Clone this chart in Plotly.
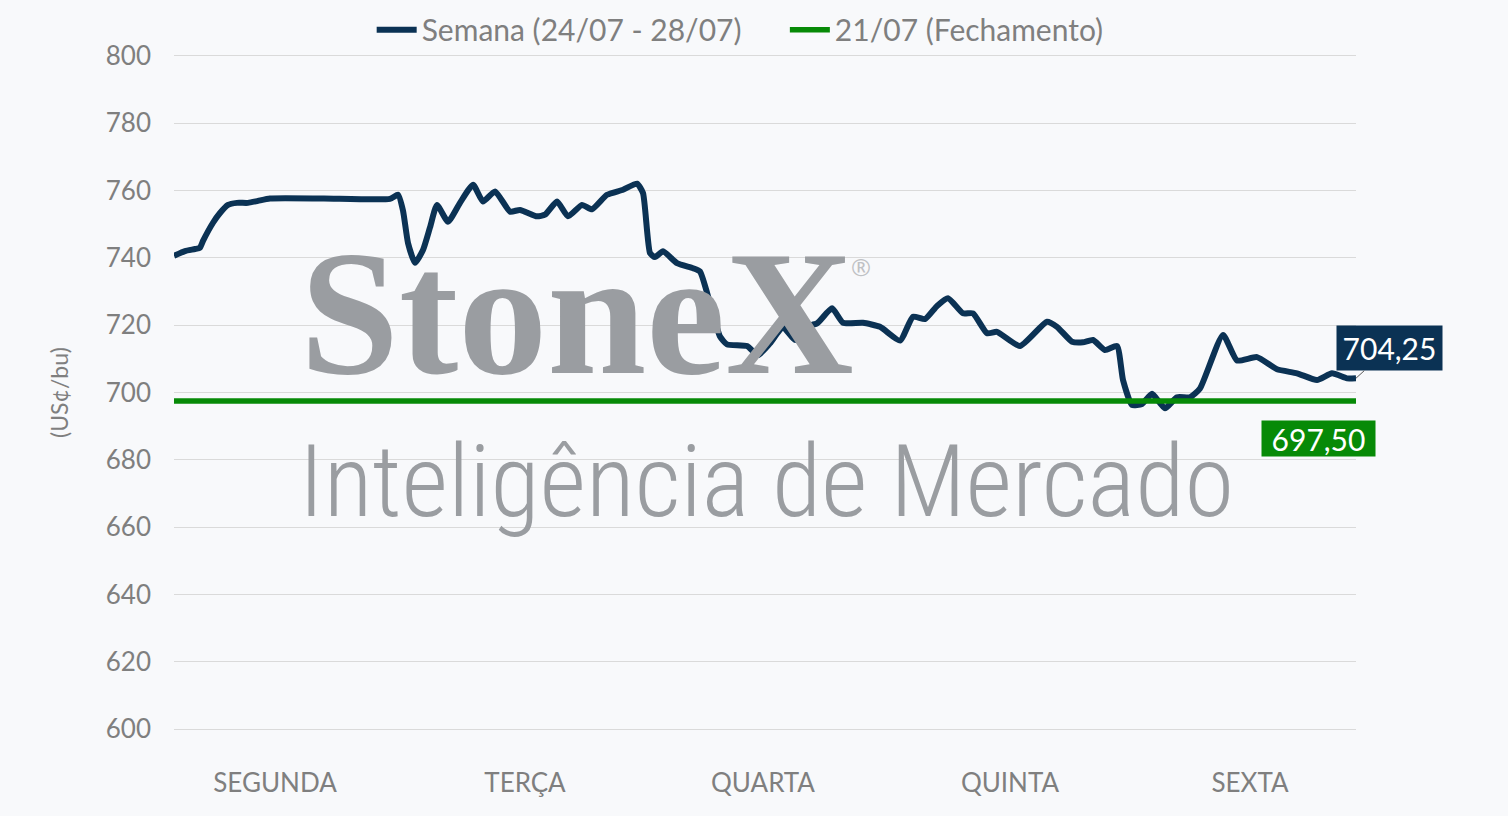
import plotly.graph_objects as go

# ---- data ----
days = ["SEGUNDA", "TERÇA", "QUARTA", "QUINTA", "SEXTA"]
day_pos = [101, 351, 589, 836, 1076]

t = [0, 11, 21, 26, 29, 39, 46, 54, 63, 74, 84, 96, 150, 216, 224, 229, 234, 241, 249, 256,
     263, 274, 286, 299, 309, 321, 336, 346, 363, 371, 383, 394, 408, 418, 433, 449, 463, 469,
     476, 481, 489, 503, 519, 526, 536, 546, 553, 573, 584, 596, 609, 621, 631, 643, 658, 669,
     689, 706, 726, 739, 751, 763, 774, 789, 799, 813, 823, 846, 873, 883, 898, 909, 919, 931,
     943, 949, 958, 968, 978, 991, 1003, 1016, 1026, 1049, 1063, 1083, 1103, 1123, 1143, 1158,
     1173, 1182]
semana = [740.6, 742.0, 742.6, 743.0, 745.0, 750.4, 753.3, 755.7, 756.3, 756.3, 756.9, 757.6,
          757.6, 757.5, 758.7, 754.0, 744.4, 738.5, 742.3, 749.0, 755.7, 750.7, 756.3, 761.7,
          756.7, 759.7, 753.7, 754.2, 752.3, 752.8, 756.7, 752.3, 755.7, 754.4, 758.7, 760.2,
          762.0, 759.2, 741.4, 740.2, 741.9, 738.4, 736.9, 735.9, 726.5, 716.6, 714.3, 713.8,
          711.1, 714.6, 719.4, 715.6, 719.5, 720.5, 725.0, 720.7, 720.7, 719.5, 715.4, 722.5,
          721.8, 725.7, 728.0, 723.5, 723.5, 717.6, 718.0, 713.8, 721.0, 719.5, 715.1, 714.9,
          715.6, 712.6, 713.8, 703.7, 696.3, 696.6, 699.6, 695.3, 698.6, 698.6, 701.2, 717.1,
          709.5, 710.5, 706.9, 705.7, 703.7, 705.7, 704.2, 704.25]
fechamento = 697.50
yticks = [600, 620, 640, 660, 680, 700, 720, 740, 760, 780, 800]
legend_names = ["Semana (24/07 - 28/07)", "21/07 (Fechamento)"]

NAVY = "#0B3254"
GREEN = "#078A07"
GRAY = "#7F7F7F"
WM = "#9A9DA1"
BG = "#F8F9FB"
PAD = "\u00a0" * 5

def fmt(v):
    return f"{v:.2f}".replace(".", ",")

fig = go.Figure()
fig.add_trace(go.Scatter(
    x=t, y=semana, mode="lines", name=legend_names[0] + PAD,
    line=dict(color=NAVY, width=6, shape="spline", smoothing=0.5),
))
fig.add_trace(go.Scatter(
    x=[t[0], t[-1]], y=[fechamento, fechamento], mode="lines", name=legend_names[1],
    line=dict(color=GREEN, width=5.5),
))

# watermark
fig.add_annotation(text="StoneX", xref="paper", yref="paper", x=(577 - 174) / 1182, y=(729 - 313) / 673,
                   xanchor="center", yanchor="middle", showarrow=False,
                   font=dict(family="Liberation Serif", size=178, color=WM, weight="bold"))
fig.add_annotation(text="®", xref="paper", yref="paper", x=(861 - 174) / 1182, y=(729 - 267) / 673,
                   xanchor="center", yanchor="middle", showarrow=False,
                   font=dict(family="Open Sans", size=24, color="#BFC1C4"))
fig.add_annotation(text="Inteligência de Mercado", xref="paper", yref="paper",
                   x=(766 - 174) / 1182, y=(729 - 481) / 673,
                   xanchor="center", yanchor="middle", showarrow=False,
                   font=dict(family="Roboto Condensed Light, Roboto Condensed, Lato", size=101,
                             color=WM, weight=300))

# value labels
fig.add_annotation(x=t[-1], y=semana[-1], text=fmt(semana[-1]), showarrow=True,
                   ax=33, ay=-30, arrowhead=0, arrowwidth=1, arrowcolor="#595959",
                   bgcolor=NAVY, font=dict(family="Lato", size=30, color="white"),
                   width=101, height=40, borderpad=2)
fig.add_annotation(x=t[-1], y=fechamento, text=fmt(fechamento), showarrow=False,
                   xshift=-38, yshift=-38, bgcolor=GREEN,
                   font=dict(family="Lato", size=30, color="white"),
                   width=111, height=33, borderpad=1)

fig.update_layout(
    width=1508, height=816,
    margin=dict(l=174, r=152, t=54, b=85, autoexpand=False),
    paper_bgcolor=BG, plot_bgcolor=BG,
    font=dict(family="Lato", color=GRAY),
    showlegend=True,
    legend=dict(orientation="h", x=0.479, xanchor="center", y=1.036, yanchor="middle",
                font=dict(size=30, color=GRAY), bgcolor="rgba(0,0,0,0)", itemwidth=40),
    xaxis=dict(range=[0, 1182], tickvals=day_pos, ticktext=days, showgrid=False, zeroline=False,
               showline=False, ticks="", tickfont=dict(size=26, color=GRAY), ticklabelstandoff=34),
    yaxis=dict(range=[599.5, 800.5], tickvals=yticks, showgrid=True, gridcolor="#DADADA",
               gridwidth=1.3, zeroline=False, showline=False, ticks="",
               tickfont=dict(size=26, color=GRAY), ticklabelstandoff=22,
               title=dict(text="(US¢/bu)", font=dict(size=23, color=GRAY), standoff=30)),
)

fig.write_html("out.html", config={"displayModeBar": False},
               post_script="document.body.style.margin='0';")
